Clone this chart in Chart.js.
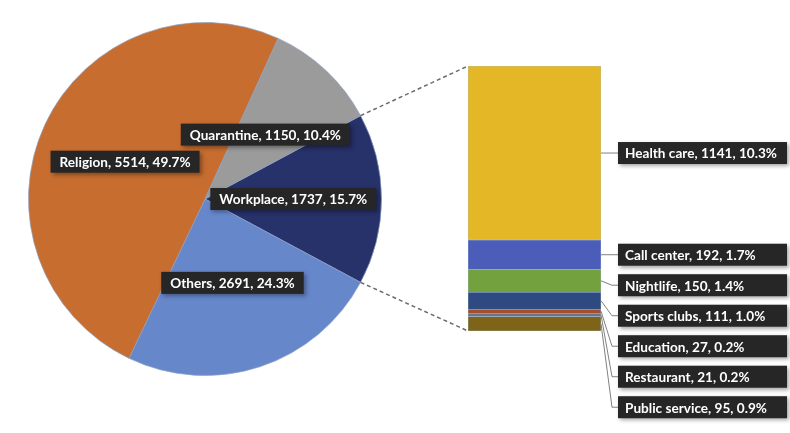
<!DOCTYPE html>
<html>
<head>
<meta charset="utf-8">
<script src="https://cdn.jsdelivr.net/npm/chart.js@4.4.0/dist/chart.umd.min.js"></script>
<style>
  html, body { margin: 0; padding: 0; background: #fff; }
  #wrap { position: relative; width: 790px; height: 433px; }
  #wrap canvas { position: absolute; left: 0; top: 0; }
</style>
</head>
<body>
<div id="wrap">
  <canvas id="pieChart" width="790" height="433"></canvas>
  <canvas id="barChart" width="790" height="433"></canvas>
</div>
<script>
// Pie data (clockwise, starting with the exploded slice)
const pieLabels = ['Workplace', 'Others', 'Religion', 'Quarantine'];
const pieValues = [1737, 2691, 5514, 1150];
const pieColors = ['#27316a', '#6787cb', '#c76d2f', '#9b9b9b'];

// Breakdown of Workplace (top to bottom)
const barLabels = ['Health care', 'Call center', 'Nightlife', 'Sports clubs', 'Education', 'Restaurant', 'Public service'];
const barValues = [1141, 192, 150, 111, 27, 21, 95];
const barColors = ['#e3b726', '#4b5cb9', '#72a13d', '#2f4a80', '#a0502c', '#6e7282', '#7d6418'];

const total = pieValues.reduce((a, b) => a + b, 0);
const workplaceTotal = barValues.reduce((a, b) => a + b, 0);
const LABEL_FONT = 'bold 13.6px Lato, "Open Sans", sans-serif';

function pct(v) {
  return (v / total * 100).toFixed(1) + '%';
}

// Dark label box with white text
function drawLabelBox(ctx, text, left, cy, right) {
  ctx.save();
  ctx.font = LABEL_FONT;
  const tw = ctx.measureText(text).width;
  const h = 22;
  const w = right ? right - left : tw + 18;
  ctx.shadowColor = 'rgba(0,0,0,0.35)';
  ctx.shadowBlur = 4;
  ctx.shadowOffsetX = 2;
  ctx.shadowOffsetY = 2;
  ctx.fillStyle = '#262626';
  ctx.fillRect(left, cy - h / 2, w, h);
  ctx.shadowColor = 'transparent';
  ctx.fillStyle = '#ffffff';
  ctx.textBaseline = 'middle';
  ctx.textAlign = 'left';
  ctx.fillText(text, right ? left + 7 : left + 9, cy + 1);
  ctx.restore();
  return w;
}

const pieLabelPlugin = {
  id: 'pieLabels',
  afterDatasetsDraw(chart) {
    const ctx = chart.ctx;
    const arcs = chart.getDatasetMeta(0).data;
    arcs.forEach((arc, i) => {
      const pos = arc.tooltipPosition();
      const text = `${pieLabels[i]}, ${pieValues[i]}, ${pct(pieValues[i])}`;
      ctx.save();
      ctx.font = LABEL_FONT;
      const w = ctx.measureText(text).width + 18;
      ctx.restore();
      drawLabelBox(ctx, text, pos.x - w / 2, pos.y);
    });
  }
};

// Pie chart
const pieChart = new Chart(document.getElementById('pieChart'), {
  type: 'pie',
  data: {
    labels: pieLabels,
    datasets: [{
      data: pieValues,
      backgroundColor: pieColors,
      borderColor: 'rgba(140,160,195,0.7)',
      borderWidth: 1,
      hoverOffset: 0
    }]
  },
  options: {
    responsive: false,
    animation: false,
    rotation: 90 - pieValues[0] / total * 180,
    layout: { padding: { left: 28, top: 22, right: 408, bottom: 57 } },
    plugins: { legend: { display: false }, tooltip: { enabled: false } }
  },
  plugins: [pieLabelPlugin]
});

const barLabelPlugin = {
  id: 'barLabels',
  afterDraw(chart) {
    const ctx = chart.ctx;
    const area = chart.chartArea;

    // Dashed connectors from the Workplace slice to the bar
    const arc = pieChart.getDatasetMeta(0).data[0];
    const p1 = { x: arc.x + arc.outerRadius * Math.cos(arc.startAngle), y: arc.y + arc.outerRadius * Math.sin(arc.startAngle) };
    const p2 = { x: arc.x + arc.outerRadius * Math.cos(arc.endAngle), y: arc.y + arc.outerRadius * Math.sin(arc.endAngle) };
    ctx.save();
    ctx.strokeStyle = '#6b6b6b';
    ctx.lineWidth = 1.5;
    ctx.setLineDash([4, 3]);
    ctx.beginPath();
    ctx.moveTo(p1.x, p1.y);
    ctx.lineTo(area.left, area.top);
    ctx.moveTo(p2.x, p2.y);
    ctx.lineTo(area.left, area.bottom);
    ctx.stroke();
    ctx.restore();

    // Leader lines + labels, spread so they don't overlap
    const boxLeft = area.right + 17;
    const boxRight = 787;
    let prevY = -Infinity;
    barLabels.forEach((label, i) => {
      const el = chart.getDatasetMeta(i).data[0];
      const mid = (el.y + el.base) / 2;
      const right = el.x + el.width / 2;
      const ly = Math.max(mid, prevY + 30.5);
      prevY = ly;

      ctx.save();
      ctx.strokeStyle = '#808080';
      ctx.lineWidth = 1;
      ctx.beginPath();
      ctx.moveTo(right, mid);
      ctx.lineTo(boxLeft - 6, ly);
      ctx.lineTo(boxLeft, ly);
      ctx.stroke();
      ctx.restore();

      drawLabelBox(ctx, `${label}, ${barValues[i]}, ${pct(barValues[i])}`, boxLeft, ly, boxRight);
    });
  }
};

// Stacked bar of the Workplace breakdown
new Chart(document.getElementById('barChart'), {
  type: 'bar',
  data: {
    labels: ['Workplace'],
    datasets: barLabels.map((label, i) => ({
      label: label,
      data: [barValues[i]],
      backgroundColor: barColors[i],
      borderColor: 'rgba(130,160,200,0.7)',
      borderWidth: 0.6,
      borderSkipped: false,
      barPercentage: 1,
      categoryPercentage: 1
    }))
  },
  options: {
    responsive: false,
    animation: false,
    layout: { padding: { left: 468, top: 66, right: 189, bottom: 102 } },
    scales: {
      x: { stacked: true, display: false },
      y: { stacked: true, display: false, reverse: true, min: 0, max: workplaceTotal }
    },
    plugins: { legend: { display: false }, tooltip: { enabled: false } }
  },
  plugins: [barLabelPlugin]
});
</script>
</body>
</html>
